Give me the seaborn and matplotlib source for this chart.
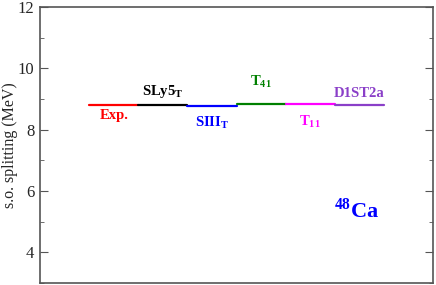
import pandas as pd
import numpy as np
import matplotlib
matplotlib.use("Agg")
import matplotlib.pyplot as plt
import seaborn as sns
from matplotlib.ticker import MultipleLocator

# values
models = ["Exp.", "SLy5T", "SIIIT", "T41", "T11", "D1ST2a"]
splitting = [8.80, 8.79, 8.78, 8.85, 8.84, 8.79]
colors = ["#ff0000", "#000000", "#0000ff", "#008000", "#ff00ff", "#8a3fc8"]
labels = ["Exp.", r"SLy5$_\mathbf{T}$", r"SIII$_\mathbf{T}$", r"T$_\mathbf{41}$",
          r"T$_\mathbf{11}$", "D1ST2a"]

rows = []
for i, (m, v) in enumerate(zip(models, splitting)):
    rows.append({"model": m, "x": i + 1, "y": v})
    rows.append({"model": m, "x": i + 2, "y": v})
df = pd.DataFrame(rows)

sns.set_style("ticks")
plt.rcParams["font.family"] = ["Liberation Serif", "DejaVu Serif"]
plt.rcParams["mathtext.fontset"] = "custom"
plt.rcParams["mathtext.rm"] = "Liberation Serif"
plt.rcParams["mathtext.bf"] = "Liberation Serif:bold"

fig = plt.figure(figsize=(4.36, 2.85), dpi=100)
ax = fig.add_axes([40 / 436, 2 / 285, 393 / 436, 276 / 285])

sns.lineplot(data=df, x="x", y="y", hue="model", palette=dict(zip(models, colors)),
             linewidth=1.6, legend=False, ax=ax, sort=False, estimator=None,
             units="model")

# labels: above or below each segment
offsets = [-0.33, 0.45, -0.55, 0.70, -0.58, 0.38]
for i, (lab, v, c, off) in enumerate(zip(labels, splitting, colors, offsets)):
    ax.text(i + 1.5, v + off, lab, color=c, fontsize=10.5, fontweight="bold",
            ha="center", va="center")

ax.text(6.45, 5.35, r"$^{\mathbf{48}}$Ca", color="#0000ff", fontsize=16,
        fontweight="bold", ha="center", va="center")

ax.set_xlim(0, 8)
ax.set_ylim(3, 12)
ax.set_xticks([])
ax.yaxis.set_major_locator(MultipleLocator(2))
ax.yaxis.set_minor_locator(MultipleLocator(1))
ax.set_yticks([4, 6, 8, 10, 12])
ax.tick_params(axis="y", which="both", direction="in", right=True, left=True,
               color="#555555", labelsize=12, pad=4)
ax.tick_params(axis="y", which="major", length=6)
ax.tick_params(axis="y", which="minor", length=3)
ax.set_xlabel("")
ax.set_ylabel("s.o. splitting (MeV)", fontsize=11.5)
ax.yaxis.set_label_coords(-22 / 393, 0.5)
for s in ax.spines.values():
    s.set_color("#555555")
    s.set_linewidth(1.2)

fig.savefig("out.png", dpi=100)
